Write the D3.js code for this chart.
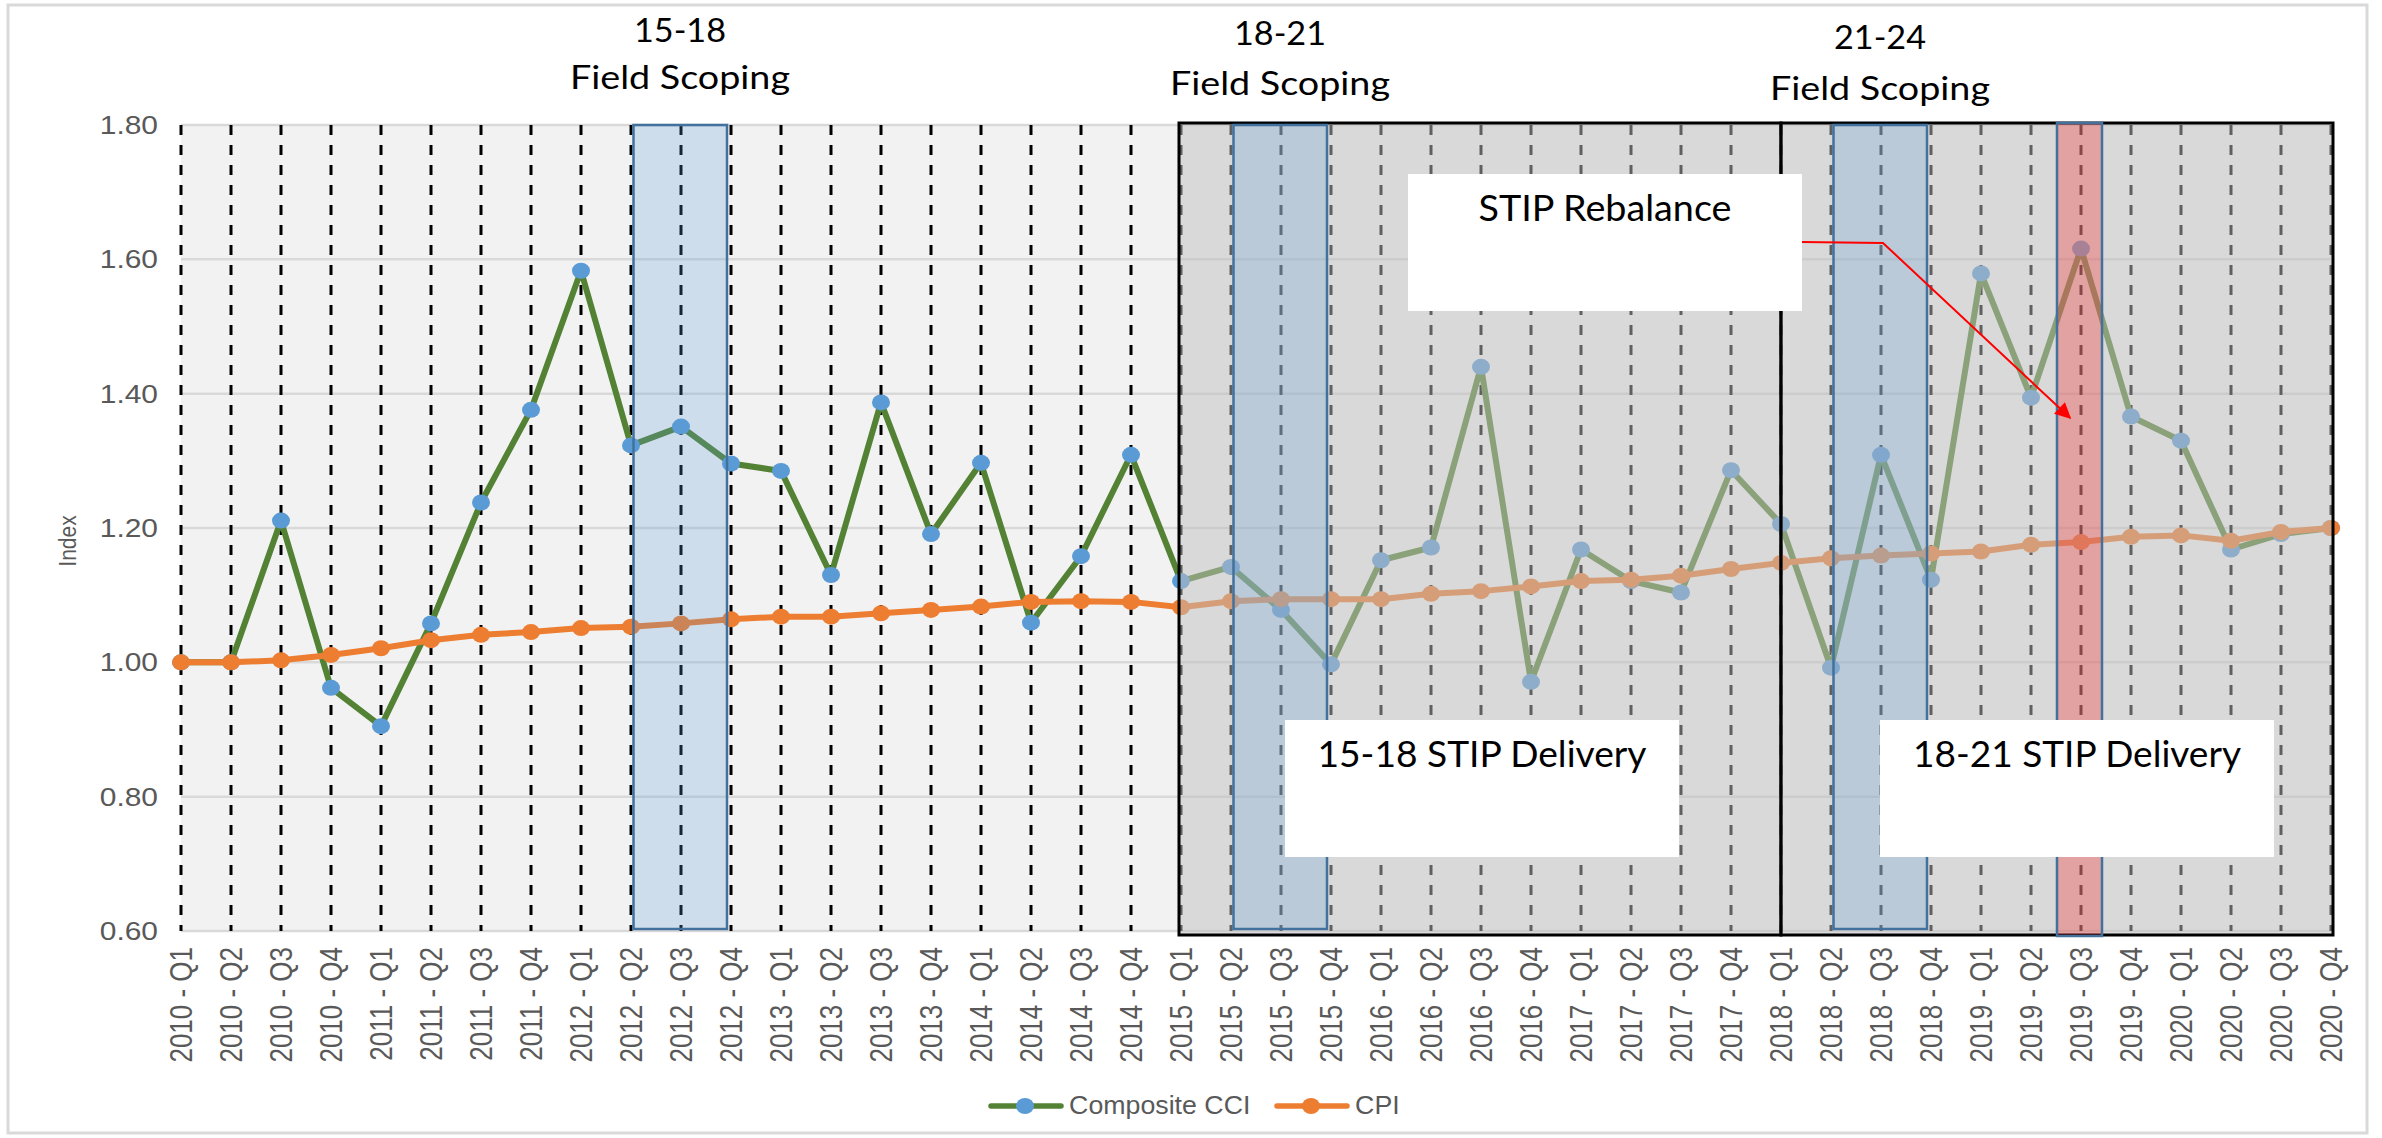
<!DOCTYPE html>
<html>
<head>
<meta charset="utf-8">
<script src="https://cdn.jsdelivr.net/npm/d3@7"></script>
<style>
  body { margin: 0; background: #fff; }
  svg { display: block; }
  .tick text { font-family: "Liberation Sans", Arial, sans-serif; fill: #595959; }
  .note { font-family: Lato, "Open Sans", sans-serif; fill: #000; }
</style>
</head>
<body>
<svg id="chart"></svg>
<script>
const categories = [
    '2010 - Q1', '2010 - Q2', '2010 - Q3', '2010 - Q4',
    '2011 - Q1', '2011 - Q2', '2011 - Q3', '2011 - Q4',
    '2012 - Q1', '2012 - Q2', '2012 - Q3', '2012 - Q4',
    '2013 - Q1', '2013 - Q2', '2013 - Q3', '2013 - Q4',
    '2014 - Q1', '2014 - Q2', '2014 - Q3', '2014 - Q4',
    '2015 - Q1', '2015 - Q2', '2015 - Q3', '2015 - Q4',
    '2016 - Q1', '2016 - Q2', '2016 - Q3', '2016 - Q4',
    '2017 - Q1', '2017 - Q2', '2017 - Q3', '2017 - Q4',
    '2018 - Q1', '2018 - Q2', '2018 - Q3', '2018 - Q4',
    '2019 - Q1', '2019 - Q2', '2019 - Q3', '2019 - Q4',
    '2020 - Q1', '2020 - Q2', '2020 - Q3', '2020 - Q4'
];

const compositeCCI = [
    1.000, 1.000, 1.211, 0.962, 0.905, 1.058, 1.238, 1.376,
    1.583, 1.323, 1.351, 1.296, 1.285, 1.130, 1.387, 1.191,
    1.297, 1.059, 1.158, 1.309, 1.121, 1.142, 1.078, 0.997,
    1.152, 1.171, 1.440, 0.971, 1.168, 1.121, 1.104, 1.286,
    1.206, 0.992, 1.309, 1.123, 1.579, 1.394, 1.616, 1.366,
    1.330, 1.168, 1.191, 1.200
];

const cpi = [
    1.000, 1.000, 1.003, 1.011, 1.021, 1.033, 1.041, 1.045,
    1.051, 1.053, 1.058, 1.064, 1.068, 1.068, 1.073, 1.078,
    1.083, 1.090, 1.091, 1.090, 1.082, 1.091, 1.094, 1.094,
    1.094, 1.102, 1.106, 1.113, 1.121, 1.123, 1.129, 1.139,
    1.148, 1.155, 1.159, 1.162, 1.165, 1.175, 1.179, 1.187,
    1.189, 1.181, 1.194, 1.200
];

const yTicks = [0.60, 0.80, 1.00, 1.20, 1.40, 1.60, 1.80];

// shaded STIP periods and field scoping windows
const stipPeriods = [['2015 - Q1', '2018 - Q1'], ['2018 - Q1', '2020 - Q4']];
const scopingWindows = [['2012 - Q2', '2012 - Q4'], ['2015 - Q2', '2015 - Q4'], ['2018 - Q2', '2018 - Q4']];
const scopingTitles = ['15-18', '18-21', '21-24'];
const rebalanceQuarter = '2019 - Q3';

const series = [
    { name: 'Composite CCI', values: compositeCCI, line: '#548235', marker: '#5b9bd5' },
    { name: 'CPI', values: cpi, line: '#ed7d31', marker: '#ed7d31' }
];

const W = 2382, H = 1138;
const margin = { top: 125, right: 51, bottom: 207, left: 181 };
const sx = 1.15; // source picture is stretched a bit horizontally

const svg = d3.select('#chart').attr('width', W).attr('height', H);

const xScale = d3.scalePoint().domain(categories).range([margin.left, W - margin.right]);
const yScale = d3.scaleLinear().domain([0.6, 1.8]).range([H - margin.bottom, margin.top]);
const x0 = xScale.range()[0], x1 = xScale.range()[1];
const yTop = yScale(1.8), yBot = yScale(0.6);

// outer frame
svg.append('rect')
    .attr('x', 8).attr('y', 5).attr('width', 2359).attr('height', H - 10)
    .attr('fill', '#fff').attr('stroke', '#d9d9d9').attr('stroke-width', 3);

// plot area
svg.append('rect')
    .attr('x', x0).attr('y', yTop).attr('width', x1 - x0).attr('height', yBot - yTop)
    .attr('fill', '#f2f2f2');

svg.append('g').selectAll('line')
    .data(yTicks)
    .join('line')
    .attr('x1', x0).attr('x2', x1)
    .attr('y1', d => yScale(d)).attr('y2', d => yScale(d))
    .attr('stroke', '#d9d9d9').attr('stroke-width', 2.5);

svg.append('g').selectAll('line')
    .data(categories)
    .join('line')
    .attr('x1', d => xScale(d)).attr('x2', d => xScale(d))
    .attr('y1', yTop).attr('y2', yBot)
    .attr('stroke', '#000').attr('stroke-width', 3)
    .attr('stroke-dasharray', '10,10');

// series
const line = d3.line().x((d, i) => xScale(categories[i])).y(d => yScale(d));

series.forEach(s => {
    const g = svg.append('g');
    g.append('path')
        .datum(s.values)
        .attr('d', line)
        .attr('fill', 'none')
        .attr('stroke', s.line)
        .attr('stroke-width', 6)
        .attr('stroke-linejoin', 'round');
    g.selectAll('ellipse')
        .data(s.values)
        .join('ellipse')
        .attr('cx', (d, i) => xScale(categories[i]))
        .attr('cy', d => yScale(d))
        .attr('rx', 9).attr('ry', 8)
        .attr('fill', s.marker);
});

// STIP delivery periods (semi-transparent gray)
svg.append('g').selectAll('rect')
    .data(stipPeriods)
    .join('rect')
    .attr('x', (d, i) => xScale(d[0]) - (i === 0 ? 2 : 0))
    .attr('y', yTop - 2)
    .attr('width', (d, i) => xScale(d[1]) - xScale(d[0]) + 2)
    .attr('height', yBot - yTop + 6)
    .attr('fill', 'rgba(191,191,191,0.5)')
    .attr('stroke', '#000').attr('stroke-width', 3);

// field scoping windows
svg.append('g').selectAll('rect')
    .data(scopingWindows)
    .join('rect')
    .attr('x', d => xScale(d[0]) + 2.5)
    .attr('y', yTop)
    .attr('width', d => xScale(d[1]) - xScale(d[0]) - 6.5)
    .attr('height', yBot - yTop - 2)
    .attr('fill', 'rgba(91,155,213,0.24)')
    .attr('stroke', '#41719c').attr('stroke-width', 2.5);

svg.append('rect')
    .attr('x', xScale(rebalanceQuarter) - 24)
    .attr('y', yTop - 2)
    .attr('width', 45)
    .attr('height', yBot - yTop + 7)
    .attr('fill', 'rgba(255,0,0,0.25)')
    .attr('stroke', '#41719c').attr('stroke-width', 2.5);

// text boxes
const notes = [
    { text: 'STIP Rebalance', x: 1408, y: 174, w: 394, len: 253 },
    { text: '15-18 STIP Delivery', x: 1285, y: 720, w: 394, len: 329 },
    { text: '18-21 STIP Delivery', x: 1880, y: 720, w: 394, len: 328 }
];
const noteG = svg.append('g').selectAll('g').data(notes).join('g');
noteG.append('rect')
    .attr('x', d => d.x).attr('y', d => d.y)
    .attr('width', d => d.w).attr('height', 137)
    .attr('fill', '#fff');
noteG.append('text')
    .attr('class', 'note')
    .attr('x', d => d.x + d.w / 2)
    .attr('y', d => d.y + 47)
    .attr('text-anchor', 'middle')
    .attr('font-size', 36)
    .attr('textLength', d => d.len)
    .attr('lengthAdjust', 'spacingAndGlyphs')
    .text(d => d.text);

// arrow from rebalance note to the rebalance quarter
svg.append('defs').append('marker')
    .attr('id', 'arrow')
    .attr('viewBox', '0 0 10 10')
    .attr('refX', 9).attr('refY', 5)
    .attr('markerWidth', 22).attr('markerHeight', 16)
    .attr('markerUnits', 'userSpaceOnUse')
    .attr('orient', 'auto')
    .append('path').attr('d', 'M0,0L10,5L0,10Z').attr('fill', '#ff0000');

svg.append('polyline')
    .attr('points', [
        [notes[0].x + notes[0].w, notes[0].y + 68],
        [xScale('2018 - Q3') + 2, notes[0].y + 69],
        [xScale(rebalanceQuarter) - 11, yScale(1.364)]
    ].map(p => p.join(',')).join(' '))
    .attr('fill', 'none')
    .attr('stroke', '#ff0000').attr('stroke-width', 2)
    .attr('marker-end', 'url(#arrow)');

// field scoping titles above the chart
const titleBase = [[42, 89], [45, 95], [49, 100]];
const titleG = svg.append('g').selectAll('g')
    .data(scopingWindows)
    .join('g')
    .attr('transform', d => `translate(${xScale(categories[categories.indexOf(d[0]) + 1]) - 1},0)`);
titleG.append('text')
    .attr('class', 'note')
    .attr('y', (d, i) => titleBase[i][0])
    .attr('text-anchor', 'middle').attr('font-size', 33)
    .attr('textLength', 92).attr('lengthAdjust', 'spacingAndGlyphs')
    .text((d, i) => scopingTitles[i]);
titleG.append('text')
    .attr('class', 'note')
    .attr('y', (d, i) => titleBase[i][1])
    .attr('text-anchor', 'middle').attr('font-size', 33)
    .attr('textLength', 220).attr('lengthAdjust', 'spacingAndGlyphs')
    .text('Field Scoping');

// axes
const yAxisG = svg.append('g')
    .attr('transform', `translate(${x0},0)`)
    .call(d3.axisLeft(yScale).tickValues(yTicks).tickFormat(d3.format('.2f')).tickSize(0));
yAxisG.select('.domain').remove();
yAxisG.selectAll('text')
    .attr('font-size', 26.5)
    .attr('x', -23 / 1.13)
    .attr('transform', 'scale(1.13,1)');

const xAxisG = svg.append('g')
    .attr('transform', `translate(0,${yBot})`)
    .call(d3.axisBottom(xScale).tickSize(0));
xAxisG.select('.domain').remove();
xAxisG.selectAll('text')
    .attr('font-size', 26)
    .attr('text-anchor', 'end')
    .attr('x', -16).attr('y', 0).attr('dy', '0.35em')
    .attr('transform', 'scale(1.18,1) rotate(-90)');

svg.append('text')
    .attr('transform', `translate(68,541) scale(${sx},1) rotate(-90)`)
    .attr('text-anchor', 'middle').attr('dy', '0.35em')
    .attr('font-family', '"Liberation Sans", Arial, sans-serif')
    .attr('font-size', 21).attr('fill', '#595959')
    .text('Index');

// legend
const legendX = [991, 1277];
const legend = svg.append('g').selectAll('g')
    .data(series)
    .join('g')
    .attr('transform', (d, i) => `translate(${legendX[i]},1106)`);
legend.append('line')
    .attr('x1', 0).attr('x2', 70)
    .attr('stroke', d => d.line).attr('stroke-width', 5.5).attr('stroke-linecap', 'round');
legend.append('ellipse')
    .attr('cx', 34).attr('rx', 9).attr('ry', 8)
    .attr('fill', d => d.marker);
legend.append('text')
    .attr('x', 73).attr('y', 8)
    .attr('font-family', '"Liberation Sans", Arial, sans-serif')
    .attr('font-size', 25).attr('fill', '#595959')
    .attr('transform', 'scale(1.07,1)')
    .text(d => d.name);
</script>
</body>
</html>
